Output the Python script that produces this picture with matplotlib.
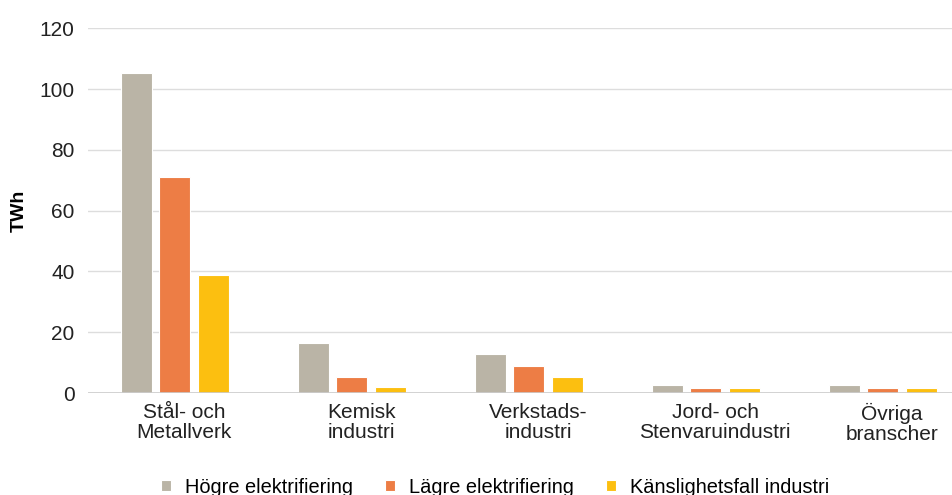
import numpy as np
import matplotlib.pyplot as plt

plt.rcParams['font.family'] = ['Liberation Sans', 'DejaVu Sans']

categories = ['Stål- och\nMetallverk', 'Kemisk\nindustri', 'Verkstads-\nindustri',
              'Jord- och\nStenvaruindustri', 'Övriga\nbranscher']
series_names = ['Högre elektrifiering', 'Lägre elektrifiering', 'Känslighetsfall industri']
hogre = [105.2, 16.4, 12.8, 2.5, 2.7]
lagre = [71.0, 5.2, 9.0, 1.6, 1.6]
kanslighet = [38.8, 2.1, 5.4, 1.6, 1.6]
colors = ['#BAB4A6', '#ED7D45', '#FCBF10']

fig = plt.figure(figsize=(9.53, 4.95), dpi=100)
ax = fig.add_axes([0.092, 0.206, 0.908, 0.737])

x = np.arange(len(categories))
w = 0.175
offs = [-0.215, 0.0, 0.222]
for vals, off, c, name in zip([hogre, lagre, kanslighet], offs, colors, series_names):
    ax.bar(x + off, vals, w, color=c, edgecolor='white', linewidth=0.8, label=name, zorder=3)

ax.set_ylim(0, 120)
ax.set_xlim(-0.492, 4.40)
ax.set_yticks(range(0, 121, 20))
ax.yaxis.grid(True, color='#dddddd', linewidth=1, zorder=0)
ax.axhline(0, color='#cccccc', linewidth=1.2, zorder=4)
for s in ax.spines.values():
    s.set_visible(False)
ax.tick_params(axis='both', length=0, labelsize=15, colors='#222222')
ax.tick_params(axis='y', pad=9.5)
ax.tick_params(axis='x', pad=7)
# labels sit a little right of the bar groups, as in the original
ax.set_xticks(x + 0.055)
ax.set_xticklabels(categories, linespacing=1.05)
ax.set_ylabel('TWh', fontsize=14, fontweight='bold', labelpad=8)

fig.legend(loc='lower center', bbox_to_anchor=(0.52, -0.04), ncol=3, frameon=False,
           fontsize=14.4, handlelength=0.5, handleheight=0.5, columnspacing=1.6, handletextpad=0.7)

fig.savefig('out.png', dpi=100)
